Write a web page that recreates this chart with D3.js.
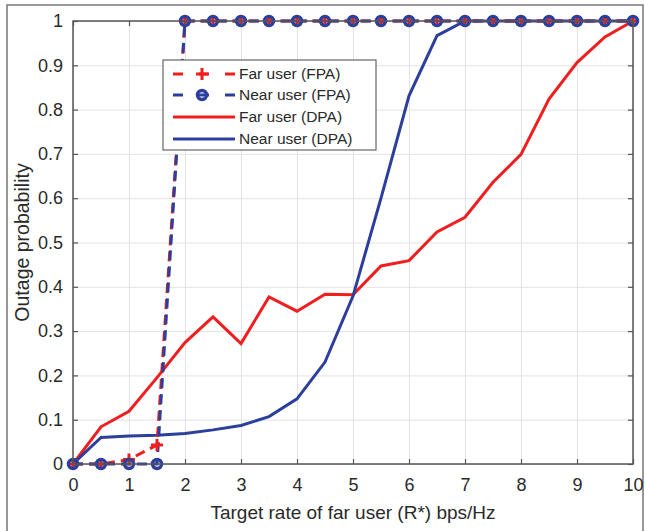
<!DOCTYPE html>
<html>
<head>
<meta charset="utf-8">
<script src="https://cdn.jsdelivr.net/npm/d3@7"></script>
<style>
  body { margin: 0; background: #fff; }
  text { font-family: "Liberation Sans", Arial, sans-serif; fill: #2a2a2a; }
</style>
</head>
<body>
<div class="chart"></div>
<script>
var svgWidth = 645;
var svgHeight = 531;

var margin = { top: 21, right: 12, bottom: 67, left: 73 };
var width = svgWidth - margin.left - margin.right;
var height = svgHeight - margin.top - margin.bottom;

// data
var rates = [0, 0.5, 1, 1.5, 2, 2.5, 3, 3.5, 4, 4.5, 5, 5.5, 6, 6.5, 7, 7.5, 8, 8.5, 9, 9.5, 10];
var farFPA = [0, 0, 0.01, 0.043, 1, 1, 1, 1, 1, 1, 1, 1, 1, 1, 1, 1, 1, 1, 1, 1, 1];
var nearFPA = [0, 0, 0, 0, 1, 1, 1, 1, 1, 1, 1, 1, 1, 1, 1, 1, 1, 1, 1, 1, 1];
var farDPA = [0, 0.084, 0.119, 0.195, 0.274, 0.332, 0.272, 0.377, 0.345, 0.383, 0.382, 0.447, 0.459, 0.524, 0.557, 0.636, 0.699, 0.824, 0.906, 0.964, 1];
var nearDPA = [0, 0.06, 0.063, 0.065, 0.069, 0.077, 0.087, 0.107, 0.147, 0.23, 0.379, 0.6, 0.831, 0.967, 1, 1, 1, 1, 1, 1, 1];

var xTicks = [0, 1, 2, 3, 4, 5, 6, 7, 8, 9, 10];
var yTicks = [0, 0.1, 0.2, 0.3, 0.4, 0.5, 0.6, 0.7, 0.8, 0.9, 1];
var legendLabels = ["Far user (FPA)", "Near user (FPA)", "Far user (DPA)", "Near user (DPA)"];

var red = "#f01e1e";
var blue = "#2c3f9c";

var svg = d3.select(".chart")
  .append("svg")
  .attr("width", svgWidth)
  .attr("height", svgHeight);

// outer frame of the figure
svg.append("rect")
  .attr("x", 7).attr("y", 5)
  .attr("width", 636).attr("height", 530)
  .attr("fill", "none")
  .attr("stroke", "#777")
  .attr("stroke-width", 1.5);

var chartGroup = svg.append("g")
  .attr("transform", `translate(${margin.left}, ${margin.top})`);

var xScale = d3.scaleLinear().domain([0, 10]).range([0, width]);
var yScale = d3.scaleLinear().domain([0, 1]).range([height, 0]);

// grid
chartGroup.append("g")
  .attr("transform", `translate(0, ${height})`)
  .call(d3.axisBottom(xScale).tickValues(xTicks).tickSize(-height).tickFormat(""))
  .call(g => g.select(".domain").remove())
  .call(g => g.selectAll("line").attr("stroke", "#e3e3e3").attr("stroke-width", 1));

chartGroup.append("g")
  .call(d3.axisLeft(yScale).tickValues(yTicks).tickSize(-width).tickFormat(""))
  .call(g => g.select(".domain").remove())
  .call(g => g.selectAll("line").attr("stroke", "#e3e3e3").attr("stroke-width", 1));

// lines
var line = d3.line()
  .x((d, i) => xScale(rates[i]))
  .y(d => yScale(d));

var series = [
  { values: farDPA, color: red, dash: null },
  { values: nearDPA, color: blue, dash: null },
  { values: farFPA, color: red, dash: "10,6" },
  { values: nearFPA, color: blue, dash: "10,6" }
];

series.forEach(function(s) {
  chartGroup.append("path")
    .datum(s.values)
    .attr("d", line)
    .attr("fill", "none")
    .attr("stroke", s.color)
    .attr("stroke-width", 3)
    .attr("stroke-dasharray", s.dash);
});

// plus markers for far user FPA
chartGroup.append("g").selectAll("path")
  .data(farFPA)
  .enter()
  .append("path")
  .attr("d", (d, i) => {
    var x = xScale(rates[i]), y = yScale(d);
    return `M${x - 6},${y}H${x + 6}M${x},${y - 6}V${y + 6}`;
  })
  .attr("stroke", red)
  .attr("stroke-width", 3);

// circle markers for near user FPA
chartGroup.append("g").selectAll("circle")
  .data(nearFPA)
  .enter()
  .append("circle")
  .attr("cx", (d, i) => xScale(rates[i]))
  .attr("cy", d => yScale(d))
  .attr("r", 4.5)
  .attr("fill", "none")
  .attr("stroke", blue)
  .attr("stroke-width", 3.5);

// axes box with inward ticks
var axisColor = "#555";
function styleAxis(g) {
  g.select(".domain").remove();
  g.selectAll("line").attr("stroke", axisColor).attr("stroke-width", 1.2);
  g.selectAll("text").attr("fill", "#2a2a2a").style("font-size", "18px")
    .style("font-family", "'Liberation Sans', Arial, sans-serif");
}

chartGroup.append("g")
  .attr("transform", `translate(0, ${height})`)
  .call(d3.axisBottom(xScale).tickValues(xTicks).tickSizeInner(-5).tickSizeOuter(0).tickPadding(14).tickFormat(d3.format("d")))
  .call(styleAxis);

chartGroup.append("g")
  .call(d3.axisTop(xScale).tickValues(xTicks).tickSizeInner(-5).tickSizeOuter(0).tickFormat(""))
  .call(styleAxis);

chartGroup.append("g")
  .call(d3.axisLeft(yScale).tickValues(yTicks).tickSizeInner(-5).tickSizeOuter(0).tickPadding(10).tickFormat(d => d === 0 || d === 1 ? d3.format("d")(d) : d3.format(".1f")(d)))
  .call(styleAxis);

chartGroup.append("g")
  .attr("transform", `translate(${width}, 0)`)
  .call(d3.axisRight(yScale).tickValues(yTicks).tickSizeInner(-5).tickSizeOuter(0).tickFormat(""))
  .call(styleAxis);

chartGroup.append("rect")
  .attr("width", width)
  .attr("height", height)
  .attr("fill", "none")
  .attr("stroke", axisColor)
  .attr("stroke-width", 1.5);

// axis labels
chartGroup.append("text")
  .attr("x", width / 2)
  .attr("y", height + 55)
  .attr("text-anchor", "middle")
  .style("font-size", "19px")
  .text("Target rate of far user (R*) bps/Hz");

chartGroup.append("text")
  .attr("transform", "rotate(-90)")
  .attr("x", -height / 2)
  .attr("y", -44)
  .attr("text-anchor", "middle")
  .style("font-size", "19.5px")
  .text("Outage probability");

// legend
var legend = svg.append("g").attr("transform", "translate(163, 60)");
legend.append("rect")
  .attr("width", 213)
  .attr("height", 90)
  .attr("fill", "#fff")
  .attr("stroke", "#666")
  .attr("stroke-width", 1.2);

var rowY = [14, 35, 57, 79];
var legendStyle = [
  { color: red, dash: "10,6", marker: "plus" },
  { color: blue, dash: "10,6", marker: "circle" },
  { color: red, dash: null, marker: null },
  { color: blue, dash: null, marker: null }
];

legendLabels.forEach(function(label, i) {
  var st = legendStyle[i];
  var row = legend.append("g").attr("transform", `translate(0, ${rowY[i]})`);
  row.append("line")
    .attr("x1", 10).attr("x2", 72)
    .attr("stroke", st.color)
    .attr("stroke-width", 3)
    .attr("stroke-dasharray", st.dash ? "10,16,10,16" : null);
  if (st.marker === "plus") {
    row.append("path")
      .attr("d", "M33,0H45M39,-6V6")
      .attr("stroke", st.color).attr("stroke-width", 3);
  } else if (st.marker === "circle") {
    row.append("circle")
      .attr("cx", 39).attr("r", 4.5)
      .attr("fill", "none")
      .attr("stroke", st.color).attr("stroke-width", 3.5);
  }
  row.append("text")
    .attr("x", 76)
    .attr("dy", "0.35em")
    .style("font-size", "15.5px")
    .text(label);
});
</script>
</body>
</html>
